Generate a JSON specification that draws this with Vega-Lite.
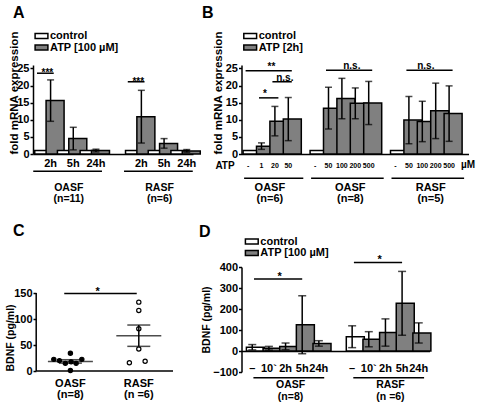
{
  "$schema": "https://vega.github.io/schema/vega-lite/v6.json",
  "padding": {"left": 5, "top": 4, "right": 0, "bottom": 0},
  "bounds": "flush",
  "align": "each",
  "columns": 2,
  "spacing": {"row": 113, "column": 48.5},
  "resolve": {"scale": {"x": "independent", "y": "independent", "fill": "independent"}, "legend": {"fill": "independent"}},
  "datasets": {
    "A_bars": [
      {"cat": "OASF 2h control", "trt": "control", "mean": 1, "sem": 0},
      {"cat": "OASF 2h ATP", "trt": "ATP [100 µM]", "mean": 15.6, "sem": 6.05},
      {"cat": "OASF 5h control", "trt": "control", "mean": 1, "sem": 0},
      {"cat": "OASF 5h ATP", "trt": "ATP [100 µM]", "mean": 4.5, "sem": 3.3},
      {"cat": "OASF 24h control", "trt": "control", "mean": 1, "sem": 0},
      {"cat": "OASF 24h ATP", "trt": "ATP [100 µM]", "mean": 1.0, "sem": 0.4},
      {"cat": "RASF 2h control", "trt": "control", "mean": 1, "sem": 0},
      {"cat": "RASF 2h ATP", "trt": "ATP [100 µM]", "mean": 10.9, "sem": 7.7},
      {"cat": "RASF 5h control", "trt": "control", "mean": 1, "sem": 0},
      {"cat": "RASF 5h ATP", "trt": "ATP [100 µM]", "mean": 3.1, "sem": 1.4},
      {"cat": "RASF 24h control", "trt": "control", "mean": 1, "sem": 0},
      {"cat": "RASF 24h ATP", "trt": "ATP [100 µM]", "mean": 0.9, "sem": 0.4}
    ],
    "A_sig": [
      {"from": "OASF 2h control", "to": "OASF 2h ATP", "at": "OASF 2h ATP", "y": 23.6, "label": "***"},
      {"from": "RASF 2h control", "to": "RASF 2h ATP", "at": "RASF 2h ATP", "y": 21.1, "label": "***"}
    ],
    "A_groups": [
      {"from": "OASF 2h control", "to": "OASF 24h ATP", "at": "OASF 5h ATP", "label": "OASF\n(n=11)"},
      {"from": "RASF 2h control", "to": "RASF 24h ATP", "at": "RASF 5h ATP", "label": "RASF\n(n=6)"}
    ],
    "B_bars": [
      {"cat": "OASF6 -", "trt": "control", "mean": 1, "sem": 0},
      {"cat": "OASF6 1", "trt": "ATP [2h]", "mean": 2.3, "sem": 0.95},
      {"cat": "OASF6 20", "trt": "ATP [2h]", "mean": 9.6, "sem": 4.3},
      {"cat": "OASF6 50", "trt": "ATP [2h]", "mean": 10.2, "sem": 6.3},
      {"cat": "OASF8 -", "trt": "control", "mean": 1, "sem": 0},
      {"cat": "OASF8 50", "trt": "ATP [2h]", "mean": 13.4, "sem": 6.1},
      {"cat": "OASF8 100", "trt": "ATP [2h]", "mean": 16.2, "sem": 5.9},
      {"cat": "OASF8 200", "trt": "ATP [2h]", "mean": 14.8, "sem": 4.5},
      {"cat": "OASF8 500", "trt": "ATP [2h]", "mean": 14.9, "sem": 6.3},
      {"cat": "RASF5 -", "trt": "control", "mean": 1, "sem": 0},
      {"cat": "RASF5 50", "trt": "ATP [2h]", "mean": 9.9, "sem": 6.9},
      {"cat": "RASF5 100", "trt": "ATP [2h]", "mean": 9.5, "sem": 5.9},
      {"cat": "RASF5 200", "trt": "ATP [2h]", "mean": 12.6, "sem": 8.1},
      {"cat": "RASF5 500", "trt": "ATP [2h]", "mean": 11.8, "sem": 8.1}
    ],
    "B_sig": [
      {"from": "OASF6 -", "to": "OASF6 50", "at": "OASF6 20", "side": "L", "y": 24.35, "label": "**"},
      {"from": "OASF6 1", "to": "OASF6 20", "at": "OASF6 1", "side": "R", "y": 16.4, "label": "*"},
      {"from": "OASF6 20", "to": "OASF6 50", "at": "OASF6 50", "side": "L", "y": 21.1, "label": "n.s."},
      {"from": "OASF8 50", "to": "OASF8 500", "at": "OASF8 200", "side": "L", "y": 24.5, "label": "n.s."},
      {"from": "RASF5 50", "to": "RASF5 500", "at": "RASF5 100", "side": "R", "y": 24.5, "label": "n.s."}
    ],
    "B_groups": [
      {"from": "OASF6 -", "to": "OASF6 50", "at": "OASF6 20", "label": "OASF\n(n=6)"},
      {"from": "OASF8 -", "to": "OASF8 500", "at": "OASF8 200", "label": "OASF\n(n=8)"},
      {"from": "RASF5 -", "to": "RASF5 500", "at": "RASF5 200", "label": "RASF\n(n=5)"}
    ],
    "C_points": [
      {"group": "OASF", "value": 22.4, "swarm": -2.96},
      {"group": "OASF", "value": 20.0, "swarm": -1.96},
      {"group": "OASF", "value": 14.7, "swarm": -0.9},
      {"group": "OASF", "value": 17.6, "swarm": 0.13},
      {"group": "OASF", "value": 14.7, "swarm": 1.02},
      {"group": "OASF", "value": 22.4, "swarm": 2.04},
      {"group": "OASF", "value": 34.2, "swarm": 0},
      {"group": "OASF", "value": 1.0, "swarm": 0},
      {"group": "RASF", "value": 132.4, "swarm": 0},
      {"group": "RASF", "value": 116.5, "swarm": 0},
      {"group": "RASF", "value": 81.2, "swarm": 0},
      {"group": "RASF", "value": 42.4, "swarm": 0},
      {"group": "RASF", "value": 15.9, "swarm": -1.68},
      {"group": "RASF", "value": 18.8, "swarm": 1.13}
    ],
    "C_stats": [
      {"group": "OASF", "mean": 18.4, "sem": 3.3},
      {"group": "RASF", "mean": 67.9, "sem": 20.5}
    ],
    "C_sig": [
      {"from": "OASF", "to": "RASF", "y": 148.8, "label": "*"}
    ],
    "D_bars": [
      {"cat": "OASF –", "trt": "control", "mean": 18, "sem": 12.6},
      {"cat": "OASF 10`", "trt": "ATP [100 µM]", "mean": 13, "sem": 9},
      {"cat": "OASF 2h", "trt": "ATP [100 µM]", "mean": 22, "sem": 16},
      {"cat": "OASF 5h", "trt": "ATP [100 µM]", "mean": 125, "sem": 138},
      {"cat": "OASF 24h", "trt": "ATP [100 µM]", "mean": 36, "sem": 13},
      {"cat": "RASF –", "trt": "control", "mean": 68, "sem": 52},
      {"cat": "RASF 10`", "trt": "ATP [100 µM]", "mean": 56, "sem": 36},
      {"cat": "RASF 2h", "trt": "ATP [100 µM]", "mean": 88, "sem": 65},
      {"cat": "RASF 5h", "trt": "ATP [100 µM]", "mean": 227, "sem": 152},
      {"cat": "RASF 24h", "trt": "ATP [100 µM]", "mean": 86, "sem": 48}
    ],
    "D_sig": [
      {"from": "OASF –", "to": "OASF 5h", "at": "OASF 2h", "y": 343, "label": "*"},
      {"from": "RASF –", "to": "RASF 5h", "at": "RASF 2h", "y": 422, "label": "*"}
    ],
    "D_groups": [
      {"from": "OASF –", "to": "OASF 24h", "at": "OASF 2h", "label": "OASF\n(n=8)"},
      {"from": "RASF –", "to": "RASF 24h", "at": "RASF 2h", "label": "RASF\n(n =6)"}
    ]
  },
  "concat": [
    {
      "width": 160,
      "height": 89,
      "title": {"text": "A", "dx": -20, "offset": 9.7},
      "layer": [
        {
          "data": {"name": "A_bars"},
          "mark": {"type": "bar", "stroke": "black", "strokeWidth": 1.5},
          "encoding": {
            "x": {"field": "cat", "type": "nominal", "title": null,
              "scale": {"domain": ["OASF 2h control", "OASF 2h ATP", "OASF 5h control", "OASF 5h ATP", "OASF 24h control", "OASF 24h ATP", "gap a", "gap b", "RASF 2h control", "RASF 2h ATP", "RASF 5h control", "RASF 5h ATP", "RASF 24h control", "RASF 24h ATP"], "paddingInner": 0.207, "paddingOuter": 0.153},
              "axis": {"values": ["OASF 2h ATP", "OASF 5h ATP", "OASF 24h ATP", "RASF 2h ATP", "RASF 5h ATP", "RASF 24h ATP"], "labelExpr": "split(datum.value, ' ')[1]", "ticks": false, "labelPadding": 3, "labelAngle": 0, "labelOverlap": false}},
            "y": {"field": "mean", "type": "quantitative", "title": "fold mRNA expression", "scale": {"domain": [0, 25]},
              "axis": {"values": [0, 5, 10, 15, 20, 25], "tickSize": 3, "labelPadding": 1, "labelOverlap": false, "titleAnchor": "start", "titleFontSize": 11.5, "titlePadding": -2.5}},
            "fill": {"field": "trt", "type": "nominal", "scale": {"domain": ["control", "ATP [100 µM]"], "range": ["white", "#808080"]},
              "legend": {"orient": "none", "legendX": 3, "legendY": -34.5, "title": null, "rowPadding": -0.5}}
          }
        },
        {
          "data": {"name": "A_bars"},
          "transform": [{"filter": "datum.sem > 0"}],
          "mark": {"type": "errorbar", "color": "black", "thickness": 1.5, "size": 7, "ticks": true},
          "encoding": {
            "x": {"field": "cat", "type": "nominal", "title": null},
            "y": {"field": "mean", "type": "quantitative", "title": "fold mRNA expression",
              "axis": {"values": [0, 5, 10, 15, 20, 25], "tickSize": 3, "labelPadding": 1, "labelOverlap": false, "titleAnchor": "start", "titleFontSize": 11.5, "titlePadding": -2.5}},
            "yError": {"field": "sem"}
          }
        },
        {
          "data": {"name": "A_sig"},
          "mark": {"type": "rule", "color": "black", "strokeWidth": 1.5},
          "encoding": {
            "x": {"field": "from", "type": "nominal", "bandPosition": 0.25, "title": null},
            "x2": {"field": "to", "bandPosition": 0.85},
            "y": {"field": "y", "type": "quantitative", "title": "fold mRNA expression",
              "axis": {"values": [0, 5, 10, 15, 20, 25], "tickSize": 3, "labelPadding": 1, "labelOverlap": false, "titleAnchor": "start", "titleFontSize": 11.5, "titlePadding": -2.5}}
          }
        },
        {
          "data": {"name": "A_sig"},
          "mark": {"type": "text", "color": "black", "fontSize": 10, "baseline": "middle", "dy": 0},
          "encoding": {
            "x": {"field": "at", "type": "nominal", "bandPosition": 0.15, "title": null},
            "y": {"field": "y", "type": "quantitative", "title": "fold mRNA expression",
              "axis": {"values": [0, 5, 10, 15, 20, 25], "tickSize": 3, "labelPadding": 1, "labelOverlap": false, "titleAnchor": "start", "titleFontSize": 11.5, "titlePadding": -2.5}},
            "text": {"field": "label"}
          }
        },
        {
          "data": {"name": "A_groups"},
          "mark": {"type": "rule", "color": "black", "strokeWidth": 1.5, "xOffset": -1.5, "x2Offset": 1.5},
          "encoding": {
            "x": {"field": "from", "type": "nominal", "bandPosition": 0, "title": null},
            "x2": {"field": "to", "bandPosition": 1},
            "y": {"datum": -5.06, "title": "fold mRNA expression",
              "axis": {"values": [0, 5, 10, 15, 20, 25], "tickSize": 3, "labelPadding": 1, "labelOverlap": false, "titleAnchor": "start", "titleFontSize": 11.5, "titlePadding": -2.5}}
          }
        },
        {
          "data": {"name": "A_groups"},
          "mark": {"type": "text", "color": "black", "fontSize": 10.5, "baseline": "top", "lineBreak": "\n", "lineHeight": 11},
          "encoding": {
            "x": {"field": "at", "type": "nominal", "bandPosition": 0, "title": null},
            "y": {"datum": -8.6, "title": "fold mRNA expression",
              "axis": {"values": [0, 5, 10, 15, 20, 25], "tickSize": 3, "labelPadding": 1, "labelOverlap": false, "titleAnchor": "start", "titleFontSize": 11.5, "titlePadding": -2.5}},
            "text": {"field": "label"}
          }
        }
      ]
    },
    {
      "width": 227,
      "height": 89,
      "title": {"text": "B", "dx": -39.5, "offset": 9.7},
      "layer": [
        {
          "data": {"name": "B_bars"},
          "mark": {"type": "bar", "stroke": "black", "strokeWidth": 1.5},
          "encoding": {
            "x": {"field": "cat", "type": "nominal", "title": "ATP",
              "scale": {"domain": ["OASF6 -", "OASF6 1", "OASF6 20", "OASF6 50", "s1", "OASF8 -", "OASF8 50", "OASF8 100", "OASF8 200", "OASF8 500", "s2", "RASF5 -", "RASF5 50", "RASF5 100", "RASF5 200", "RASF5 500"], "paddingInner": 0.254, "paddingOuter": 0.597, "align": 0.1},
              "axis": {"titleX": -17, "titleY": 11.5, "titleAlign": "center", "titleBaseline": "middle", "titleFontSize": 10, "titleAngle": 0,
                "values": ["OASF6 -", "OASF6 1", "OASF6 20", "OASF6 50", "OASF8 -", "OASF8 50", "OASF8 100", "OASF8 200", "OASF8 500", "RASF5 -", "RASF5 50", "RASF5 100", "RASF5 200", "RASF5 500"],
                "labelExpr": "split(datum.value, ' ')[1]", "ticks": false, "labelPadding": 7, "labelFontSize": 7, "labelAngle": 0, "labelOverlap": false}},
            "y": {"field": "mean", "type": "quantitative", "title": "fold mRNA expression", "scale": {"domain": [0, 25]},
              "axis": {"values": [0, 5, 10, 15, 20, 25], "tickSize": 3, "labelPadding": 1, "labelOverlap": false, "titleAnchor": "start", "titleFontSize": 11.5, "titlePadding": 1.7}},
            "fill": {"field": "trt", "type": "nominal", "scale": {"domain": ["control", "ATP [2h]"], "range": ["white", "#808080"]},
              "legend": {"orient": "none", "legendX": 3.2, "legendY": -34.5, "title": null, "rowPadding": -0.5}}
          }
        },
        {
          "data": {"name": "B_bars"},
          "transform": [{"filter": "datum.sem > 0"}],
          "mark": {"type": "errorbar", "color": "black", "thickness": 1.5, "size": 7, "ticks": true},
          "encoding": {
            "x": {"field": "cat", "type": "nominal", "title": "ATP"},
            "y": {"field": "mean", "type": "quantitative", "title": "fold mRNA expression",
              "axis": {"values": [0, 5, 10, 15, 20, 25], "tickSize": 3, "labelPadding": 1, "labelOverlap": false, "titleAnchor": "start", "titleFontSize": 11.5, "titlePadding": 1.7}},
            "yError": {"field": "sem"}
          }
        },
        {
          "data": {"name": "B_sig"},
          "mark": {"type": "rule", "color": "black", "strokeWidth": 1.5},
          "encoding": {
            "x": {"field": "from", "type": "nominal", "bandPosition": 0.25, "title": "ATP"},
            "x2": {"field": "to", "bandPosition": 0.85},
            "y": {"field": "y", "type": "quantitative", "title": "fold mRNA expression",
              "axis": {"values": [0, 5, 10, 15, 20, 25], "tickSize": 3, "labelPadding": 1, "labelOverlap": false, "titleAnchor": "start", "titleFontSize": 11.5, "titlePadding": 1.7}}
          }
        },
        {
          "data": {"name": "B_sig"},
          "transform": [{"filter": "datum.side == 'L'"}],
          "mark": {"type": "text", "color": "black", "fontSize": 10, "baseline": "middle", "dy": -4},
          "encoding": {
            "x": {"field": "at", "type": "nominal", "bandPosition": 0.15, "title": "ATP"},
            "y": {"field": "y", "type": "quantitative", "title": "fold mRNA expression",
              "axis": {"values": [0, 5, 10, 15, 20, 25], "tickSize": 3, "labelPadding": 1, "labelOverlap": false, "titleAnchor": "start", "titleFontSize": 11.5, "titlePadding": 1.7}},
            "text": {"field": "label"}
          }
        },
        {
          "data": {"name": "B_sig"},
          "transform": [{"filter": "datum.side == 'R'"}],
          "mark": {"type": "text", "color": "black", "fontSize": 10, "baseline": "middle", "dy": -4},
          "encoding": {
            "x": {"field": "at", "type": "nominal", "bandPosition": 0.85, "title": "ATP"},
            "y": {"field": "y", "type": "quantitative", "title": "fold mRNA expression",
              "axis": {"values": [0, 5, 10, 15, 20, 25], "tickSize": 3, "labelPadding": 1, "labelOverlap": false, "titleAnchor": "start", "titleFontSize": 11.5, "titlePadding": 1.7}},
            "text": {"field": "label"}
          }
        },
        {
          "data": {"name": "B_groups"},
          "mark": {"type": "rule", "color": "black", "strokeWidth": 1.5, "xOffset": 1, "x2Offset": 10},
          "encoding": {
            "x": {"field": "from", "type": "nominal", "bandPosition": 0, "title": "ATP"},
            "x2": {"field": "to", "bandPosition": 1},
            "y": {"datum": -7.1, "title": "fold mRNA expression",
              "axis": {"values": [0, 5, 10, 15, 20, 25], "tickSize": 3, "labelPadding": 1, "labelOverlap": false, "titleAnchor": "start", "titleFontSize": 11.5, "titlePadding": 1.7}}
          }
        },
        {
          "data": {"name": "B_groups"},
          "mark": {"type": "text", "color": "black", "fontSize": 11, "baseline": "top", "lineBreak": "\n", "lineHeight": 10.5},
          "encoding": {
            "x": {"field": "at", "type": "nominal", "bandPosition": 0, "title": "ATP"},
            "y": {"datum": -8.2, "title": "fold mRNA expression",
              "axis": {"values": [0, 5, 10, 15, 20, 25], "tickSize": 3, "labelPadding": 1, "labelOverlap": false, "titleAnchor": "start", "titleFontSize": 11.5, "titlePadding": 1.7}},
            "text": {"field": "label"}
          }
        },
        {
          "data": {"values": [{"cat": "RASF5 500", "unit": "µM"}]},
          "mark": {"type": "text", "color": "black", "fontSize": 10, "baseline": "middle", "dx": 19},
          "encoding": {
            "x": {"field": "cat", "type": "nominal", "title": "ATP"},
            "y": {"datum": -3.3, "title": "fold mRNA expression",
              "axis": {"values": [0, 5, 10, 15, 20, 25], "tickSize": 3, "labelPadding": 1, "labelOverlap": false, "titleAnchor": "start", "titleFontSize": 11.5, "titlePadding": 1.7}},
            "text": {"field": "unit"}
          }
        }
      ]
    },
    {
      "width": 140,
      "height": 104,
      "title": {"text": "C", "dx": -20, "offset": 28},
      "layer": [
        {
          "data": {"name": "C_points"},
          "mark": {"type": "circle", "size": 18, "stroke": "black", "strokeWidth": 1.2, "opacity": 1},
          "encoding": {
            "x": {"field": "group", "type": "nominal", "title": null,
              "scale": {"domain": ["OASF", "RASF"], "paddingInner": 0, "paddingOuter": 0.0234, "align": 1},
              "axis": {"domain": false, "ticks": false, "labelAngle": 0, "labelPadding": 6, "labelLineHeight": 11,
                "labelExpr": "datum.value == 'OASF' ? ['OASF', '(n=8)'] : ['RASF', '(n =6)']"}},
            "xOffset": {"field": "swarm", "type": "quantitative", "scale": {"domain": [-6.1, 6.1]}},
            "y": {"field": "value", "type": "quantitative", "title": "BDNF (pg/ml)", "scale": {"domain": [0, 183.5]},
              "axis": {"values": [0, 50, 100, 150], "domain": false, "offset": -3, "tickSize": 3, "labelPadding": 1, "labelOverlap": false, "titleAnchor": "start", "titleFontSize": 10.5, "titlePadding": -2}},
            "fill": {"field": "group", "type": "nominal", "scale": {"domain": ["OASF", "RASF"], "range": ["black", "white"]}, "legend": null}
          }
        },
        {
          "data": {"values": [{"from": "OASF", "to": "RASF"}]},
          "mark": {"type": "rule", "color": "black", "strokeWidth": 1.5},
          "encoding": {
            "x": {"field": "from", "type": "nominal", "bandPosition": 0, "title": null},
            "x2": {"field": "to", "bandPosition": 1},
            "y": {"datum": 0, "title": "BDNF (pg/ml)",
              "axis": {"values": [0, 50, 100, 150], "domain": false, "offset": -3, "tickSize": 3, "labelPadding": 1, "labelOverlap": false, "titleAnchor": "start", "titleFontSize": 10.5, "titlePadding": -2}}
          }
        },
        {
          "data": {"values": [{"from": "OASF"}]},
          "mark": {"type": "rule", "color": "black", "strokeWidth": 1.5},
          "encoding": {
            "x": {"field": "from", "type": "nominal", "bandPosition": 0, "title": null},
            "y": {"datum": 0, "title": "BDNF (pg/ml)",
              "axis": {"values": [0, 50, 100, 150], "domain": false, "offset": -3, "tickSize": 3, "labelPadding": 1, "labelOverlap": false, "titleAnchor": "start", "titleFontSize": 10.5, "titlePadding": -2}},
            "y2": {"datum": 150}
          }
        },
        {
          "data": {"name": "C_stats"},
          "mark": {"type": "tick", "color": "black", "thickness": 1.5, "size": 45},
          "encoding": {
            "x": {"field": "group", "type": "nominal", "title": null},
            "y": {"field": "mean", "type": "quantitative", "title": "BDNF (pg/ml)",
              "axis": {"values": [0, 50, 100, 150], "domain": false, "offset": -3, "tickSize": 3, "labelPadding": 1, "labelOverlap": false, "titleAnchor": "start", "titleFontSize": 10.5, "titlePadding": -2}}
          }
        },
        {
          "data": {"name": "C_stats"},
          "mark": {"type": "errorbar", "color": "black", "thickness": 1.5, "size": 23, "ticks": true},
          "encoding": {
            "x": {"field": "group", "type": "nominal", "title": null},
            "y": {"field": "mean", "type": "quantitative", "title": "BDNF (pg/ml)",
              "axis": {"values": [0, 50, 100, 150], "domain": false, "offset": -3, "tickSize": 3, "labelPadding": 1, "labelOverlap": false, "titleAnchor": "start", "titleFontSize": 10.5, "titlePadding": -2}},
            "yError": {"field": "sem"}
          }
        },
        {
          "data": {"name": "C_sig"},
          "mark": {"type": "rule", "color": "black", "strokeWidth": 1.5},
          "encoding": {
            "x": {"field": "from", "type": "nominal", "bandPosition": 0.41, "title": null},
            "x2": {"field": "to", "bandPosition": 0.47},
            "y": {"field": "y", "type": "quantitative", "title": "BDNF (pg/ml)",
              "axis": {"values": [0, 50, 100, 150], "domain": false, "offset": -3, "tickSize": 3, "labelPadding": 1, "labelOverlap": false, "titleAnchor": "start", "titleFontSize": 10.5, "titlePadding": -2}}
          }
        },
        {
          "data": {"name": "C_sig"},
          "mark": {"type": "text", "color": "black", "fontSize": 11, "baseline": "middle", "dy": -2},
          "encoding": {
            "x": {"field": "from", "type": "nominal", "bandPosition": 0.9, "title": null},
            "y": {"field": "y", "type": "quantitative", "title": "BDNF (pg/ml)",
              "axis": {"values": [0, 50, 100, 150], "domain": false, "offset": -3, "tickSize": 3, "labelPadding": 1, "labelOverlap": false, "titleAnchor": "start", "titleFontSize": 10.5, "titlePadding": -2}},
            "text": {"field": "label"}
          }
        }
      ]
    },
    {
      "width": 188,
      "height": 105,
      "title": {"text": "D", "dx": -42.5, "offset": -4},
      "layer": [
        {
          "data": {"name": "D_bars"},
          "mark": {"type": "bar", "stroke": "black", "strokeWidth": 1.5},
          "encoding": {
            "x": {"field": "cat", "type": "nominal", "title": null,
              "scale": {"domain": ["OASF –", "OASF 10`", "OASF 2h", "OASF 5h", "OASF 24h", "sp", "RASF –", "RASF 10`", "RASF 2h", "RASF 5h", "RASF 24h"], "paddingInner": 0.297, "paddingOuter": 0.295},
              "axis": {"values": ["OASF –", "OASF 10`", "OASF 2h", "OASF 5h", "OASF 24h", "RASF –", "RASF 10`", "RASF 2h", "RASF 5h", "RASF 24h"],
                "labelExpr": "split(datum.value, ' ')[1]", "ticks": false, "offset": -21, "labelPadding": 11, "labelAngle": 0, "labelOverlap": false}},
            "y": {"field": "mean", "type": "quantitative", "title": "BDNF (pg/ml)", "scale": {"domain": [-100, 400]},
              "axis": {"values": [-100, 0, 100, 200, 300, 400], "tickSize": 3, "labelPadding": 1, "labelOverlap": false, "titleFontSize": 10.5, "titlePadding": 1.5}},
            "fill": {"field": "trt", "type": "nominal", "scale": {"domain": ["control", "ATP [100 µM]"], "range": ["white", "#808080"]},
              "legend": {"orient": "none", "legendX": 4.8, "legendY": -31, "title": null, "rowPadding": -0.5}}
          }
        },
        {
          "data": {"name": "D_bars"},
          "mark": {"type": "errorbar", "color": "black", "thickness": 1.5, "size": 8, "ticks": true},
          "encoding": {
            "x": {"field": "cat", "type": "nominal", "title": null},
            "y": {"field": "mean", "type": "quantitative", "title": "BDNF (pg/ml)",
              "axis": {"values": [-100, 0, 100, 200, 300, 400], "tickSize": 3, "labelPadding": 1, "labelOverlap": false, "titleFontSize": 10.5, "titlePadding": 1.5}},
            "yError": {"field": "sem"}
          }
        },
        {
          "data": {"name": "D_sig"},
          "mark": {"type": "rule", "color": "black", "strokeWidth": 1.5},
          "encoding": {
            "x": {"field": "from", "type": "nominal", "bandPosition": 0.65, "title": null},
            "x2": {"field": "to", "bandPosition": 0.5},
            "y": {"field": "y", "type": "quantitative", "title": "BDNF (pg/ml)",
              "axis": {"values": [-100, 0, 100, 200, 300, 400], "tickSize": 3, "labelPadding": 1, "labelOverlap": false, "titleFontSize": 10.5, "titlePadding": 1.5}}
          }
        },
        {
          "data": {"name": "D_sig"},
          "mark": {"type": "text", "color": "black", "fontSize": 11, "baseline": "middle", "dy": -2},
          "encoding": {
            "x": {"field": "at", "type": "nominal", "bandPosition": 0, "title": null},
            "y": {"field": "y", "type": "quantitative", "title": "BDNF (pg/ml)",
              "axis": {"values": [-100, 0, 100, 200, 300, 400], "tickSize": 3, "labelPadding": 1, "labelOverlap": false, "titleFontSize": 10.5, "titlePadding": 1.5}},
            "text": {"field": "label"}
          }
        },
        {
          "data": {"name": "D_groups"},
          "mark": {"type": "rule", "color": "black", "strokeWidth": 1.5, "xOffset": 7, "x2Offset": -0.5},
          "encoding": {
            "x": {"field": "from", "type": "nominal", "bandPosition": 0, "title": null},
            "x2": {"field": "to", "bandPosition": 1},
            "y": {"datum": -127, "title": "BDNF (pg/ml)",
              "axis": {"values": [-100, 0, 100, 200, 300, 400], "tickSize": 3, "labelPadding": 1, "labelOverlap": false, "titleFontSize": 10.5, "titlePadding": 1.5}}
          }
        },
        {
          "data": {"name": "D_groups"},
          "mark": {"type": "text", "color": "black", "fontSize": 10.5, "baseline": "top", "lineBreak": "\n", "lineHeight": 12.5, "dx": 5},
          "encoding": {
            "x": {"field": "at", "type": "nominal", "bandPosition": 0.5, "title": null},
            "y": {"datum": -136, "title": "BDNF (pg/ml)",
              "axis": {"values": [-100, 0, 100, 200, 300, 400], "tickSize": 3, "labelPadding": 1, "labelOverlap": false, "titleFontSize": 10.5, "titlePadding": 1.5}},
            "text": {"field": "label"}
          }
        }
      ]
    }
  ],
  "config": {
    "font": "Liberation Sans",
    "view": {"stroke": null},
    "axis": {"grid": false, "labelFontWeight": "bold", "titleFontWeight": "bold", "labelColor": "black", "titleColor": "black", "domainColor": "black", "tickColor": "black", "labelFontSize": 11, "titleFontSize": 11, "domainWidth": 1.5, "tickWidth": 1.5},
    "legend": {"labelFontSize": 11, "labelFontWeight": "bold", "labelColor": "black", "symbolType": "M-1.6,-0.6H1.6V0.6H-1.6Z", "symbolSize": 64, "symbolStrokeColor": "black", "symbolStrokeWidth": 1.5, "labelOffset": 3, "rowPadding": -0.5, "padding": 0},
    "title": {"anchor": "start", "frame": "group", "fontSize": 16, "fontWeight": "bold", "color": "black"},
    "text": {"color": "black", "fontWeight": "bold"}
  }
}
